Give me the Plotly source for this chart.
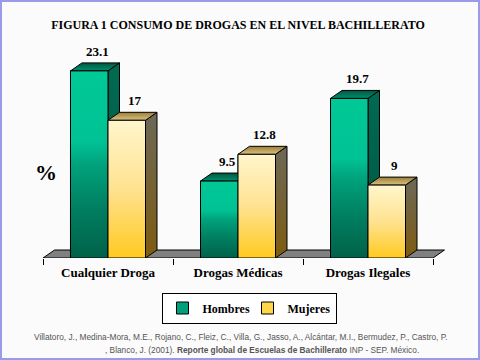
import plotly.graph_objects as go

# ---- data ----
categories = ["Cualquier Droga", "Drogas Médicas", "Drogas Ilegales"]
hombres = [23.1, 9.5, 19.7]
mujeres = [17, 12.8, 9]
series_names = ["Hombres", "Mujeres"]

title_text = "FIGURA 1 CONSUMO DE DROGAS EN EL NIVEL BACHILLERATO"
axis_label = "%"
cite_line1 = ("Villatoro, J., Medina-Mora, M.E., Rojano, C., Fleiz, C., Villa, G., Jasso, A., "
              "Alcántar, M.I., Bermudez, P., Castro, P.")
cite_line2 = (", Blanco, J. (2001). <b>Reporte global de Escuelas de Bachillerato</b> INP - SEP. México.")

# ---- style / geometry ----
W, H = 480, 360
PX_PER_X = 130.0          # pixels per category unit
PX_PER_Y = 8.1            # pixels per %
BASE_PX = 258.0           # baseline pixel row
LEFT_PX = 43.0            # pixel of x=-0.5
BAR_W = 0.2885            # bar width in category units
DX = 11.5 / PX_PER_X      # 3D depth offset (x)
DY = 8.0 / PX_PER_Y       # 3D depth offset (y)

x0 = -0.5 - LEFT_PX / PX_PER_X
x_range = [x0, x0 + W / PX_PER_X]
y_dom0 = (H - BASE_PX) / H
y_range = [0, BASE_PX / PX_PER_Y]

SERIF = "Liberation Serif"
SANS = "Liberation Sans"

styles = {
    "Hombres": dict(
        legend="#00A07A", legendwidth=40,
        front=[[0, "#006249"], [0.25, "#007D5F"], [0.5, "#00A27C"], [0.62, "#00C294"], [1, "#00C896"]],
        top=[[0, "#00906E"], [1, "#005640"]],
        side=[[0, "#005541"], [1, "#006A50"]],
    ),
    "Mujeres": dict(
        legend="#FFD54A", legendwidth=None,
        front=[[0, "#FFCA20"], [0.5, "#FFE290"], [1, "#FFF6CC"]],
        top=[[0, "#D9C27E"], [1, "#9C7E38"]],
        side=[[0, "#7E5C10"], [1, "#6C6858"]],
    ),
}

fig = go.Figure()

# Real bars (legend + base marks)
for name, vals in [("Hombres", hombres), ("Mujeres", mujeres)]:
    kw = {}
    if styles[name]["legendwidth"]:
        kw["legendwidth"] = styles[name]["legendwidth"]
    fig.add_trace(go.Bar(
        x=list(range(len(categories))), y=vals, name=name,
        marker=dict(color=styles[name]["legend"], line=dict(color="black", width=1)),
        hoverinfo="skip", **kw,
    ))


def face(xs, ys, scale):
    fig.add_trace(go.Scatter(
        x=xs, y=ys, mode="lines", fill="toself",
        line=dict(color="black", width=1),
        fillgradient=dict(type="vertical", colorscale=scale),
        showlegend=False, hoverinfo="skip",
    ))


# 3D faces computed from the data
for i in range(len(categories)):
    for name, vals, xa in [("Hombres", hombres, i - BAR_W), ("Mujeres", mujeres, i)]:
        v = vals[i]
        xb = xa + BAR_W
        st = styles[name]
        face([xb, xb + DX, xb + DX, xb, xb], [0, DY, v + DY, v, 0], st["side"])
        face([xa, xb, xb + DX, xa + DX, xa], [v, v, v + DY, v + DY, v], st["top"])
        face([xa, xb, xb, xa, xa], [0, 0, v, v, 0], st["front"])
        fig.add_annotation(
            x=(xa + xb) / 2 + DX * 0.7, y=v + DY, yshift=2,
            text=f"{v:g}", showarrow=False, yanchor="bottom",
            font=dict(family=SERIF, size=13, color="black", weight="bold"),
        )

# floor
n = len(categories)
fig.add_shape(
    type="path", layer="below", xref="x", yref="y",
    path=(f"M {-0.5} 0 L {n - 0.5} 0 L {n - 0.5 + DX} {DY} L {-0.5 + DX} {DY} Z"),
    fillcolor="#808080", line=dict(color="black", width=1),
)

# outer border
fig.add_shape(type="rect", xref="paper", yref="paper", x0=0, y0=0, x1=1, y1=1,
              line=dict(color="#9A9AEA", width=4), fillcolor="rgba(0,0,0,0)")

# % label
fig.add_annotation(x=45.5 / W, y=1 - 172 / H, xref="paper", yref="paper",
                   xanchor="center", yanchor="middle",
                   text=axis_label, showarrow=False,
                   font=dict(family=SERIF, size=22, color="black", weight="bold"))

# citation
fig.add_annotation(x=240 / W, y=1 - 337 / H, xref="paper", yref="paper",
                   xanchor="center", yanchor="middle",
                   text=cite_line1, showarrow=False,
                   font=dict(family=SANS, size=8.3, color="#555555"))
fig.add_annotation(x=262 / W, y=1 - 350 / H, xref="paper", yref="paper",
                   xanchor="center", yanchor="middle",
                   text=cite_line2, showarrow=False,
                   font=dict(family=SANS, size=8.3, color="#555555"))

fig.update_layout(
    width=W, height=H,
    margin=dict(l=0, r=0, t=0, b=0),
    paper_bgcolor="#FBFBFB", plot_bgcolor="rgba(0,0,0,0)",
    barmode="group", bargap=1 - 2 * BAR_W, bargroupgap=0,
    title=dict(text=title_text, x=238 / W, xanchor="center", y=1 - 25 / H, yanchor="middle",
               font=dict(family=SERIF, size=12, color="black", weight="bold")),
    showlegend=True,
    legend=dict(
        orientation="h", x=249 / W, xanchor="center", y=1 - 308 / H, yanchor="middle",
        bgcolor="white", bordercolor="black", borderwidth=1,
        font=dict(family=SERIF, size=12, color="black", weight="bold"),
        itemwidth=30, tracegroupgap=0,
    ),
    xaxis=dict(
        range=x_range, domain=[0, 1], showgrid=False, zeroline=False, showline=False,
        tickmode="array", tickvals=list(range(n)), ticktext=categories,
        ticks="outside", ticklen=2, tickcolor="rgba(0,0,0,0)",
        tickfont=dict(family=SERIF, size=13, color="black", weight="bold"),
        minor=dict(tickmode="array", tickvals=[k - 0.5 for k in range(n + 1)],
                   ticks="outside", ticklen=6, tickcolor="black", tickwidth=1, showgrid=False),
        fixedrange=True,
    ),
    yaxis=dict(range=y_range, domain=[y_dom0, 1], visible=False, fixedrange=True),
)

fig.write_html("out.html", config={"displayModeBar": False},
               post_script="document.body.style.margin='0px';")
